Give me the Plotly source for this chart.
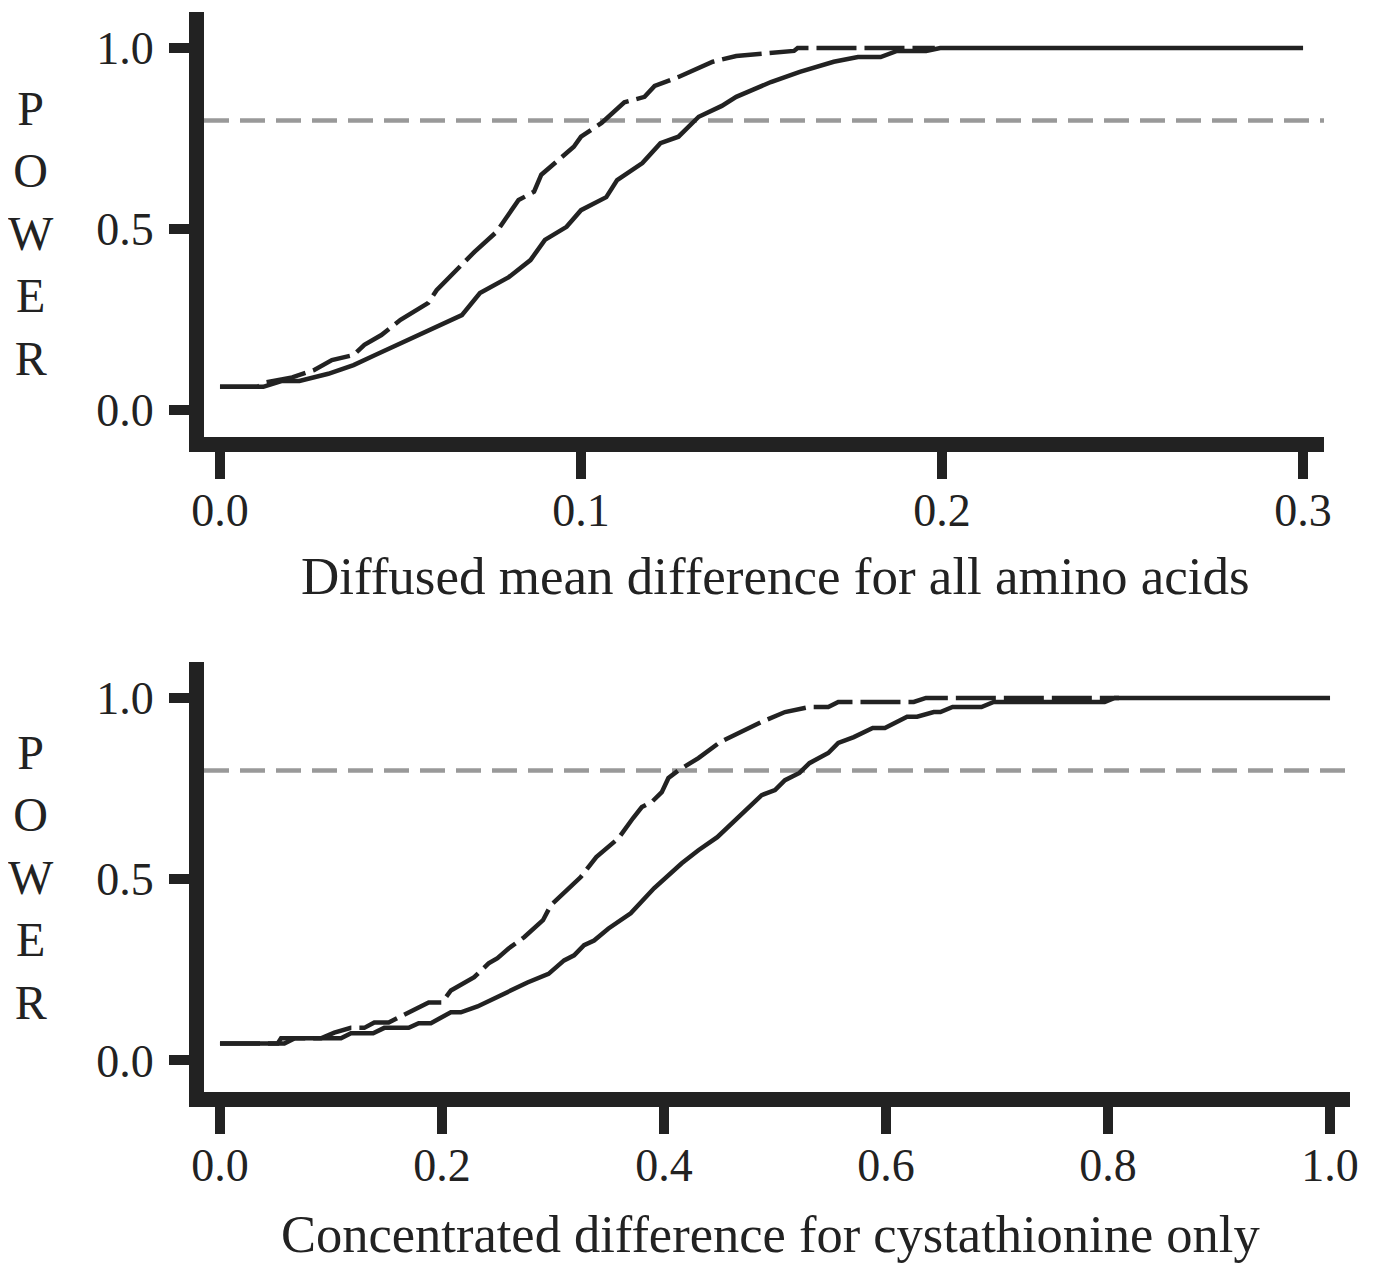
import plotly.graph_objects as go

# ---------------- data ----------------
top_solid_x = [0.0, 0.012, 0.017, 0.022, 0.030, 0.037, 0.043, 0.052, 0.059, 0.067, 0.072, 0.080, 0.086,
               0.090, 0.096, 0.100, 0.107, 0.110, 0.117, 0.122, 0.127, 0.1326, 0.139, 0.143, 0.1526,
               0.1606, 0.170, 0.1767, 0.183, 0.1875, 0.1956, 0.1995, 0.3]
top_solid_y = [0.064, 0.064, 0.080, 0.080, 0.100, 0.124, 0.152, 0.193, 0.226, 0.262, 0.323, 0.367, 0.414,
               0.470, 0.506, 0.552, 0.588, 0.635, 0.682, 0.737, 0.755, 0.810, 0.840, 0.865, 0.906,
               0.934, 0.962, 0.975, 0.975, 0.992, 0.992, 1.0, 1.0]

top_dash_x = [0.0, 0.0105, 0.012, 0.020, 0.026, 0.031, 0.037, 0.040, 0.0447, 0.050, 0.0577, 0.060, 0.0705,
              0.0766, 0.0827, 0.087, 0.089, 0.098, 0.100, 0.1057, 0.112, 0.1176, 0.1204, 0.127, 0.1365,
              0.143, 0.159, 0.160, 0.198]
top_dash_y = [0.064, 0.064, 0.075, 0.090, 0.110, 0.138, 0.152, 0.180, 0.207, 0.249, 0.296, 0.331, 0.437,
              0.492, 0.580, 0.603, 0.650, 0.727, 0.755, 0.793, 0.850, 0.865, 0.895, 0.920, 0.962,
              0.978, 0.992, 1.0, 1.0]

bot_solid_x = [0.0, 0.058, 0.067, 0.109, 0.118, 0.138, 0.148, 0.170, 0.179, 0.190, 0.208, 0.217, 0.232,
               0.253, 0.277, 0.296, 0.310, 0.319, 0.328, 0.337, 0.350, 0.370, 0.391, 0.416, 0.431, 0.448,
               0.488, 0.500, 0.509, 0.522, 0.531, 0.548, 0.557, 0.571, 0.588, 0.599, 0.619, 0.628, 0.643,
               0.649, 0.660, 0.686, 0.697, 0.797, 0.806, 1.0]
bot_solid_y = [0.047, 0.047, 0.061, 0.061, 0.075, 0.075, 0.090, 0.090, 0.103, 0.103, 0.133, 0.133, 0.149,
               0.180, 0.215, 0.239, 0.276, 0.290, 0.318, 0.331, 0.364, 0.406, 0.475, 0.544, 0.580, 0.616,
               0.732, 0.746, 0.773, 0.793, 0.820, 0.848, 0.876, 0.892, 0.917, 0.917, 0.948, 0.948, 0.961,
               0.961, 0.975, 0.975, 0.989, 0.989, 1.0, 1.0]

bot_dash_x = [0.0, 0.052, 0.055, 0.091, 0.103, 0.118, 0.130, 0.139, 0.152, 0.188, 0.200, 0.208, 0.229,
              0.242, 0.250, 0.260, 0.274, 0.291, 0.298, 0.325, 0.339, 0.359, 0.372, 0.380, 0.389, 0.398,
              0.404, 0.413, 0.431, 0.451, 0.488, 0.509, 0.531, 0.548, 0.557, 0.625, 0.636, 0.81]
bot_dash_y = [0.047, 0.047, 0.061, 0.061, 0.077, 0.090, 0.090, 0.105, 0.105, 0.160, 0.160, 0.193, 0.230,
              0.268, 0.282, 0.309, 0.340, 0.387, 0.428, 0.506, 0.561, 0.613, 0.668, 0.699, 0.713, 0.740,
              0.779, 0.800, 0.834, 0.879, 0.934, 0.961, 0.975, 0.975, 0.989, 0.989, 1.0, 1.0]

power_threshold = 0.8
y_ticks = [0.0, 0.5, 1.0]
y_tick_text = ["0.0", "0.5", "1.0"]
top_x_ticks = [0.0, 0.1, 0.2, 0.3]
top_x_tick_text = ["0.0", "0.1", "0.2", "0.3"]
bot_x_ticks = [0.0, 0.2, 0.4, 0.6, 0.8, 1.0]
bot_x_tick_text = ["0.0", "0.2", "0.4", "0.6", "0.8", "1.0"]
top_xlabel = "Diffused mean difference for all amino acids"
bot_xlabel = "Concentrated difference for cystathionine only"
ylabel_letters = ["P", "O", "W", "E", "R"]

# ---------------- layout ----------------
W, H = 1376, 1263
OFF = 8  # default page body margin
FONT = "Liberation Serif, Times New Roman, serif"
INK = "#222222"
LW = 4.5

def px_x(p):
    return (p - OFF) / W

def px_y(p):
    return 1 - (p - OFF) / H

fig = go.Figure()

fig.add_trace(go.Scatter(x=top_solid_x, y=top_solid_y, mode="lines", xaxis="x", yaxis="y",
                         line=dict(color=INK, width=LW), showlegend=False, hoverinfo="skip"))
fig.add_trace(go.Scatter(x=top_dash_x, y=top_dash_y, mode="lines", xaxis="x", yaxis="y",
                         line=dict(color=INK, width=LW, dash="40px,8px"), showlegend=False, hoverinfo="skip"))
fig.add_trace(go.Scatter(x=bot_solid_x, y=bot_solid_y, mode="lines", xaxis="x2", yaxis="y2",
                         line=dict(color=INK, width=LW), showlegend=False, hoverinfo="skip"))
fig.add_trace(go.Scatter(x=bot_dash_x, y=bot_dash_y, mode="lines", xaxis="x2", yaxis="y2",
                         line=dict(color=INK, width=LW, dash="40px,8px"), showlegend=False, hoverinfo="skip"))

axis_common = dict(showgrid=False, zeroline=False, showline=True, linecolor=INK, linewidth=15,
                   ticks="outside", tickcolor=INK, tickwidth=10, automargin=False,
                   tickfont=dict(family=FONT, size=46, color=INK))

fig.update_layout(
    xaxis=dict(domain=[px_x(204), px_x(1324)], range=[-0.00443, 0.3058], anchor="y",
               tickvals=top_x_ticks, ticktext=top_x_tick_text, ticklen=27, ticklabelstandoff=-8,
               **axis_common),
    yaxis=dict(domain=[px_y(437), px_y(12)], range=[-0.0746, 1.0994], anchor="x",
               tickvals=y_ticks, ticktext=y_tick_text, ticklen=20, ticklabelstandoff=6,
               **axis_common),
    xaxis2=dict(domain=[px_x(204), px_x(1350)], range=[-0.0144, 1.018], anchor="y2",
                tickvals=bot_x_ticks, ticktext=bot_x_tick_text, ticklen=27, ticklabelstandoff=-8,
                **axis_common),
    yaxis2=dict(domain=[px_y(1092), px_y(662)], range=[-0.0869, 1.099], anchor="x2",
                tickvals=y_ticks, ticktext=y_tick_text, ticklen=20, ticklabelstandoff=6,
                **axis_common),
)

# threshold lines
for xr, yr in [("x domain", "y"), ("x2 domain", "y2")]:
    fig.add_shape(type="line", xref=xr, yref=yr, x0=0, x1=1, y0=power_threshold, y1=power_threshold,
                  line=dict(color="#999999", width=4.5, dash="25px,11px"), layer="below")

# axis titles and vertical POWER labels
annos = []
annos.append(dict(text=top_xlabel, x=px_x(775), y=px_y(576), xref="paper", yref="paper",
                  xanchor="center", yanchor="middle", showarrow=False,
                  font=dict(family=FONT, size=53, color=INK)))
annos.append(dict(text=bot_xlabel, x=px_x(770), y=px_y(1234), xref="paper", yref="paper",
                  xanchor="center", yanchor="middle", showarrow=False,
                  font=dict(family=FONT, size=52.5, color=INK)))
for cy in (233, 877):
    annos.append(dict(text="<br>".join(ylabel_letters), x=px_x(31), y=px_y(cy), xref="paper", yref="paper",
                      xanchor="center", yanchor="middle", showarrow=False, align="center",
                      font=dict(family=FONT, size=48, color=INK)))

fig.update_layout(
    width=W, height=H,
    margin=dict(l=0, r=0, t=0, b=0, pad=0, autoexpand=False),
    paper_bgcolor="white", plot_bgcolor="white",
    annotations=annos,
    font=dict(family=FONT, color=INK),
)

fig.write_html("out.html")
